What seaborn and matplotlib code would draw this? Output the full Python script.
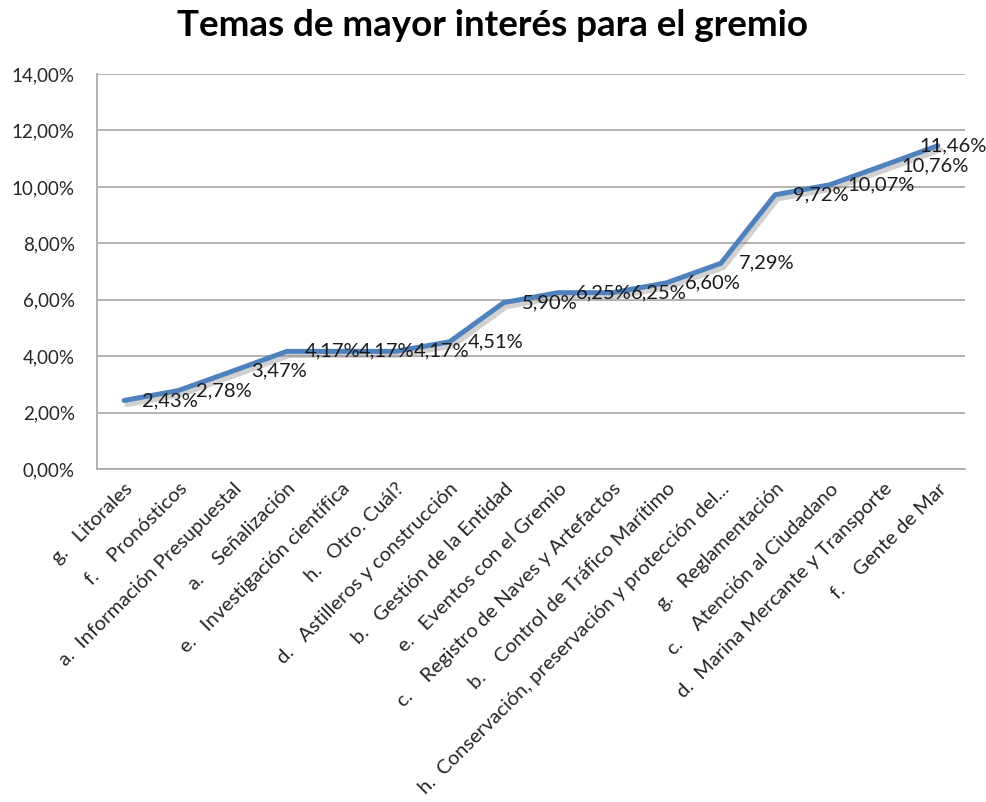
import pandas as pd
import seaborn as sns
import matplotlib.pyplot as plt
import matplotlib.patheffects as pe
from matplotlib.ticker import FuncFormatter

# Datos del gráfico
categorias = [
    "g.   Litorales",
    "f.    Pronósticos",
    "a.  Información Presupuestal",
    "a.    Señalización",
    "e.   Investigación científica",
    "h.   Otro. Cuál?",
    "d.   Astilleros y construcción",
    "b.   Gestión de la Entidad",
    "e.   Eventos con el Gremio",
    "c.    Registro de Naves y Artefactos",
    "b.    Control de Tráfico Marítimo",
    "h.  Conservación, preservación y protección del...",
    "g.   Reglamentación",
    "c.    Atención al Ciudadano",
    "d.  Marina Mercante y Transporte",
    "f.    Gente de Mar",
]
valores = [0.0243, 0.0278, 0.0347, 0.0417, 0.0417, 0.0417, 0.0451, 0.0590,
           0.0625, 0.0625, 0.0660, 0.0729, 0.0972, 0.1007, 0.1076, 0.1146]
ticks_y = [0.00, 0.02, 0.04, 0.06, 0.08, 0.10, 0.12, 0.14]

df = pd.DataFrame({"tema": categorias, "valor": valores})

sns.set_theme(style="white")
plt.rcParams["font.family"] = ["Lato", "DejaVu Sans"]

fig = plt.figure(figsize=(9.86, 8.02), dpi=100)
ax = fig.add_axes([0.0984, 0.4152, 0.8803, 0.4925])

sns.lineplot(data=df, x="tema", y="valor", sort=False, ax=ax,
             color="#4F81BD", linewidth=3.6,
             path_effects=[pe.SimpleLineShadow(offset=(2, -3), shadow_color="#8c8c8c", alpha=0.4),
                           pe.Normal()])

def pct(v, pos=None):
    return f"{v * 100:.2f}%".replace(".", ",")

# Etiquetas de datos (la última se corre a la izquierda para que quepa)
for i, v in enumerate(valores):
    dx = 13 if i < len(valores) - 1 else -13
    ax.annotate(pct(v), (i, v), xytext=(dx, 0), textcoords="offset points",
                ha="left", va="center", fontsize=14.5, color="#1a1a1a")

ax.set_ylim(0, 0.14)
ax.set_xlim(-0.5, len(categorias) - 0.5)
ax.set_yticks(ticks_y)
ax.yaxis.set_major_formatter(FuncFormatter(pct))
ax.grid(axis="y", color="#a6a6a6", linewidth=1.2)
ax.set_axisbelow(True)

for s in ["top", "right"]:
    ax.spines[s].set_visible(False)
for s in ["left", "bottom"]:
    ax.spines[s].set_color("#a6a6a6")
    ax.spines[s].set_linewidth(1.2)

ax.tick_params(axis="y", length=0, pad=16, labelsize=13.5, labelcolor="#262626")
ax.tick_params(axis="x", length=0, pad=8, labelsize=14.5, labelcolor="#262626")
ax.set_xticks(range(len(categorias)))
ax.set_xticklabels(categorias, rotation=45, ha="right", va="top", rotation_mode="anchor")
ax.set_xlabel("")
ax.set_ylabel("")

fig.text(0.499, 0.968, "Temas de mayor interés para el gremio", ha="center", va="center",
         fontsize=26.5, fontweight="bold", color="black")

fig.savefig("out.png", dpi=100)
